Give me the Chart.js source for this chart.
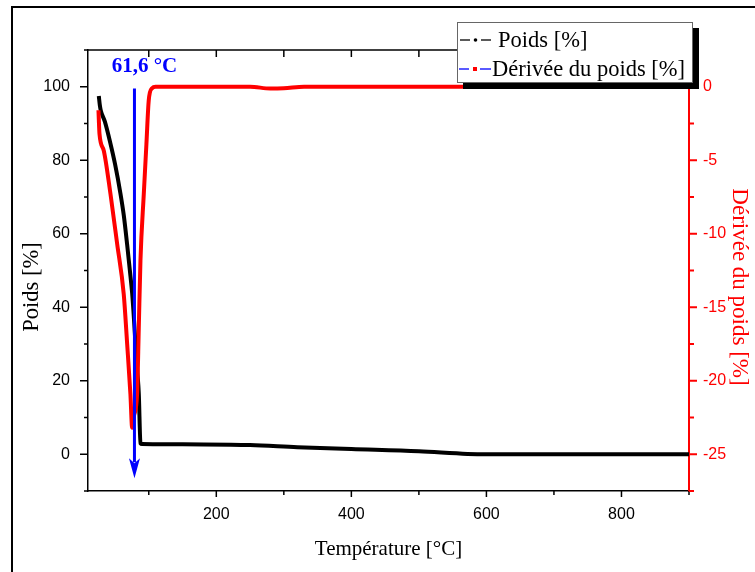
<!DOCTYPE html>
<html>
<head>
<meta charset="utf-8">
<script src="https://cdn.jsdelivr.net/npm/chart.js@4.4.0/dist/chart.umd.min.js"></script>
<style>
  html, body { margin: 0; padding: 0; background: #fff; }
</style>
</head>
<body>
<canvas id="tgaChart" width="755" height="572"></canvas>
<script>
// weight curve (left axis)
const poidsTemp = [26, 27.5, 29, 35, 43.3, 50, 58, 63, 68, 72, 75.4, 78, 80.3, 83, 85.2, 87.7, 90, 150, 250, 320, 400, 500, 572, 600, 900];
const poidsVal  = [97.5, 95, 93.5, 90.5, 84.5, 79, 71, 65, 57, 50, 43.8, 37, 30, 22.5, 16.6, 3, 2.8, 2.7, 2.5, 1.9, 1.4, 0.8, 0.1, 0, 0];

// derivative curve (right axis)
const derivTemp = [25.5, 26, 27, 33.4, 43.3, 53.2, 62.9, 68, 72.8, 75.4, 78, 82.7, 85.2, 87.7, 92.6, 96.5, 99.9, 104.9, 110, 250, 280, 300, 330, 560, 900];
const derivVal  = [-1.6, -2.2, -3.2, -4.35, -7.3, -10.7, -14.1, -17.5, -20.9, -23.2, -22.4, -20.9, -16.4, -11.8, -7.3, -3.9, -0.95, -0.1, 0, 0, -0.12, -0.1, 0, 0, 0];

const xTickVals = [200, 400, 600, 800];
const leftTickVals = [0, 20, 40, 60, 80, 100];
const rightTickVals = [0, -5, -10, -15, -20, -25];

const seriesLabels = ["Poids [%]", "Dérivée du poids [%]"];
const xTitle = "Température [°C]";
const yTitle = "Poids [%]";
const y2Title = "Dérivée du poids [%]";
const peakTemp = 78.8;
const peakLabel = "61,6 °C";

const serif = "'Liberation Serif', 'Times New Roman', serif";
const sans = "'Liberation Sans', Arial, sans-serif";

const decorPlugin = {
  id: "decor",
  afterDraw(chart) {
    const { ctx, chartArea: a, scales } = chart;
    const x = scales.x, y = scales.y, y2 = scales.y2;
    const line = (x1, y1, x2, y2_) => {
      ctx.beginPath(); ctx.moveTo(x1, y1); ctx.lineTo(x2, y2_); ctx.stroke();
    };
    ctx.save();

    // outer frame
    ctx.strokeStyle = "#000";
    ctx.lineWidth = 2;
    ctx.strokeRect(12, 7, 800, 600);

    // top axis
    ctx.lineWidth = 1.5;
    line(a.left, a.top, a.right, a.top);

    // x ticks, bottom outward, top inward
    for (let v = 100; v <= 900; v += 100) {
      const px = x.getPixelForValue(v);
      line(px, a.bottom, px, a.bottom + (v % 200 === 0 ? 6 : 4));
      line(px, a.top, px, a.top + 7);
    }
    // left ticks
    for (let v = -10; v <= 110; v += 10) {
      const py = y.getPixelForValue(v);
      line(a.left - (v % 20 === 0 ? 8 : 4), py, a.left, py);
    }
    // right ticks
    ctx.strokeStyle = "#ff0000";
    ctx.lineWidth = 2;
    for (let v = 2.5; v >= -27.5; v -= 2.5) {
      const py = y2.getPixelForValue(v);
      line(a.right, py, a.right + (v % 5 === 0 ? 8 : 5), py);
    }

    // peak arrow
    const ax = x.getPixelForValue(peakTemp);
    const yTop = y.getPixelForValue(99.5);
    const yTip = y.getPixelForValue(-6.5);
    ctx.strokeStyle = "#0000ff";
    ctx.fillStyle = "#0000ff";
    ctx.lineWidth = 3;
    line(ax, yTop, ax, yTip - 16);
    ctx.beginPath();
    ctx.moveTo(ax - 5.5, yTip - 20);
    ctx.lineTo(ax, yTip - 15);
    ctx.lineTo(ax + 5.5, yTip - 20);
    ctx.lineTo(ax, yTip);
    ctx.closePath();
    ctx.fill();
    ctx.font = "bold 21px " + serif;
    ctx.textAlign = "center";
    ctx.textBaseline = "middle";
    ctx.fillText(peakLabel, ax + 10, a.top + 17);

    // axis titles
    ctx.fillStyle = "#000";
    ctx.font = "21px " + serif;
    ctx.fillText(xTitle, (a.left + a.right) / 2 + 0, 549);
    ctx.save();
    ctx.translate(32, 287);
    ctx.rotate(-Math.PI / 2);
    ctx.font = "22.5px " + serif;
    ctx.fillText(yTitle, 0, 0);
    ctx.restore();
    ctx.save();
    ctx.translate(739, 287);
    ctx.rotate(Math.PI / 2);
    ctx.fillStyle = "#ff0000";
    ctx.font = "23px " + serif;
    ctx.fillText(y2Title, 0, 0);
    ctx.restore();

    // legend with drop shadow
    const lx = a.right - 232, ly = 22, lw = 235, lh = 60;
    ctx.fillStyle = "#000";
    ctx.fillRect(lx + 6, ly + 6, lw + 1, lh + 1);
    ctx.fillStyle = "#fff";
    ctx.fillRect(lx, ly, lw, lh);
    ctx.strokeStyle = "#666";
    ctx.lineWidth = 1;
    ctx.strokeRect(lx + 0.5, ly + 0.5, lw, lh);

    const r1 = ly + 18, r2 = ly + 47;
    ctx.lineWidth = 1.3;
    ctx.strokeStyle = "#000";
    line(lx + 3, r1, lx + 13, r1);
    line(lx + 24, r1, lx + 34, r1);
    ctx.fillStyle = "#000";
    ctx.beginPath(); ctx.arc(lx + 18.5, r1, 1.8, 0, Math.PI * 2); ctx.fill();
    ctx.strokeStyle = "#0000ff";
    line(lx + 2, r2, lx + 12, r2);
    line(lx + 23, r2, lx + 34, r2);
    ctx.fillStyle = "#ff0000";
    ctx.fillRect(lx + 16, r2 - 2, 4, 4);

    ctx.fillStyle = "#000";
    ctx.font = "22.5px " + serif;
    ctx.textAlign = "left";
    ctx.fillText(seriesLabels[0], lx + 41, r1 + 1);
    ctx.fillText(seriesLabels[1], lx + 35, r2 + 1);

    ctx.restore();
  }
};

const ctx = document.getElementById("tgaChart").getContext("2d");

new Chart(ctx, {
  type: "line",
  data: {
    datasets: [
      {
        label: seriesLabels[1],
        data: derivTemp.map((t, i) => ({ x: t, y: derivVal[i] })),
        yAxisID: "y2",
        borderColor: "#ff0000",
        borderWidth: 4,
        pointRadius: 0,
        cubicInterpolationMode: "monotone",
      },
      {
        label: seriesLabels[0],
        data: poidsTemp.map((t, i) => ({ x: t, y: poidsVal[i] })),
        yAxisID: "y",
        borderColor: "#000000",
        borderWidth: 4,
        pointRadius: 0,
        cubicInterpolationMode: "monotone",
      },
    ],
  },
  options: {
    responsive: false,
    animation: false,
    devicePixelRatio: 1,
    layout: { padding: { left: 12, right: 0, top: 50, bottom: 0 } },
    plugins: { legend: { display: false }, tooltip: { enabled: false } },
    scales: {
      x: {
        type: "linear",
        min: 10,
        max: 900,
        afterFit: (s) => { s.height = 81; },
        afterBuildTicks: (s) => { s.ticks = xTickVals.map((v) => ({ value: v })); },
        border: { color: "#000", width: 1.5 },
        grid: { drawOnChartArea: false, drawTicks: false },
        ticks: { color: "#000", padding: 14, maxRotation: 0, font: { family: sans, size: 16 } },
      },
      y: {
        position: "left",
        min: -10,
        max: 110,
        afterFit: (s) => { s.width = 76; },
        afterBuildTicks: (s) => { s.ticks = leftTickVals.map((v) => ({ value: v })); },
        border: { color: "#000", width: 1.5 },
        grid: { drawOnChartArea: false, drawTicks: false },
        ticks: { color: "#000", padding: 18, font: { family: sans, size: 16 } },
      },
      y2: {
        position: "right",
        min: -27.5,
        max: 2.5,
        afterFit: (s) => { s.width = 66; },
        afterBuildTicks: (s) => { s.ticks = rightTickVals.map((v) => ({ value: v })); },
        border: { color: "#ff0000", width: 2 },
        grid: { drawOnChartArea: false, drawTicks: false },
        ticks: { color: "#ff0000", padding: 14, font: { family: sans, size: 16 } },
      },
    },
  },
  plugins: [decorPlugin],
});
</script>
</body>
</html>
